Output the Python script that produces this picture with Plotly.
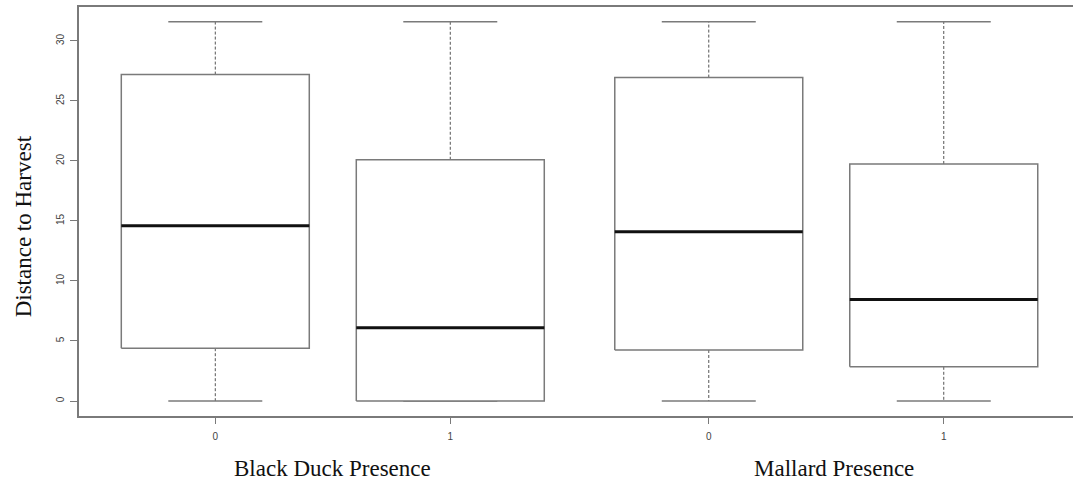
import plotly.graph_objects as go

# Box-plot summaries of distance to harvest, by species presence (0 = absent, 1 = present)
groups = ["Black Duck Presence", "Black Duck Presence", "Mallard Presence", "Mallard Presence"]
categories = ["0", "1", "0", "1"]
lower_whisker = [0, 0, 0, 0]
q1 = [4.4, 0, 4.25, 2.85]
median = [14.6, 6.1, 14.1, 8.45]
q3 = [27.2, 20.1, 26.95, 19.75]
upper_whisker = [31.6, 31.6, 31.6, 31.6]
y_ticks = [0, 5, 10, 15, 20, 25, 30]

# layout: boxes are one unit apart, the second species panel is shifted slightly right
GROUP_SHIFT = 0.1
HALF_W = 0.4
BOX_COLOR = "#7a7a7a"

group_names = list(dict.fromkeys(groups))
positions = []
for i, g in enumerate(groups):
    positions.append(i + 1 + group_names.index(g) * GROUP_SHIFT)

fig = go.Figure()

for p, lo, a, m, b, hi in zip(positions, lower_whisker, q1, median, q3, upper_whisker):
    # dashed whiskers
    fig.add_trace(go.Scatter(
        x=[p, p, None, p, p], y=[b, hi, None, a, lo], mode="lines",
        line=dict(color="#555555", width=1, dash="3px,2px"),
        hoverinfo="skip", showlegend=False))
    # whisker caps
    fig.add_trace(go.Scatter(
        x=[p - HALF_W / 2, p + HALF_W / 2, None, p - HALF_W / 2, p + HALF_W / 2],
        y=[hi, hi, None, lo, lo], mode="lines",
        line=dict(color=BOX_COLOR, width=1.5),
        hoverinfo="skip", showlegend=False))
    # box from Q1 to Q3
    fig.add_trace(go.Scatter(
        x=[p - HALF_W, p + HALF_W, p + HALF_W, p - HALF_W, p - HALF_W],
        y=[a, a, b, b, a], mode="lines", fill="toself", fillcolor="white",
        line=dict(color=BOX_COLOR, width=1.5),
        hoverinfo="skip", showlegend=False))
    # median bar
    fig.add_trace(go.Scatter(
        x=[p - HALF_W, p + HALF_W], y=[m, m], mode="lines",
        line=dict(color="#111111", width=3),
        hoverinfo="skip", showlegend=False))

tick_font = dict(family="Liberation Sans, Arial, sans-serif", size=10, color="#444444")
label_font = dict(family="Liberation Serif, Times New Roman, serif", size=23, color="#111111")

annotations = []
for g in group_names:
    xs = [p for p, gg in zip(positions, groups) if gg == g]
    annotations.append(dict(
        text=g, x=sum(xs) / len(xs) + (0.035 if g == "Mallard Presence" else 0.0), xref="x",
        y=-0.128, yref="paper", xanchor="center", yanchor="middle",
        showarrow=False, font=label_font))
annotations.append(dict(
    text="Distance to Harvest", x=-0.056, xref="paper", y=0.4645, yref="paper",
    xanchor="center", yanchor="middle", textangle=-90, showarrow=False, font=label_font))

fig.update_layout(
    width=1073, height=483, autosize=False,
    margin=dict(l=79, r=0, t=7, b=67),
    plot_bgcolor="white", paper_bgcolor="white",
    annotations=annotations,
    xaxis=dict(
        range=[0.42, 4.65], tickvals=positions, ticktext=categories,
        ticks="outside", ticklen=6, tickcolor=BOX_COLOR, tickwidth=1,
        ticklabelstandoff=4,
        showline=True, linecolor=BOX_COLOR, linewidth=1.5, mirror=True,
        showgrid=False, zeroline=False, tickfont=tick_font),
    yaxis=dict(
        range=[-1.25, 32.83], tickvals=y_ticks, ticktext=[str(v) for v in y_ticks],
        tickangle=-90, ticks="outside", ticklen=7, tickcolor=BOX_COLOR, tickwidth=1,
        ticklabelstandoff=2,
        showline=True, linecolor=BOX_COLOR, linewidth=1.5,
        showgrid=False, zeroline=False, tickfont=tick_font),
)

fig.write_html("out.html")
